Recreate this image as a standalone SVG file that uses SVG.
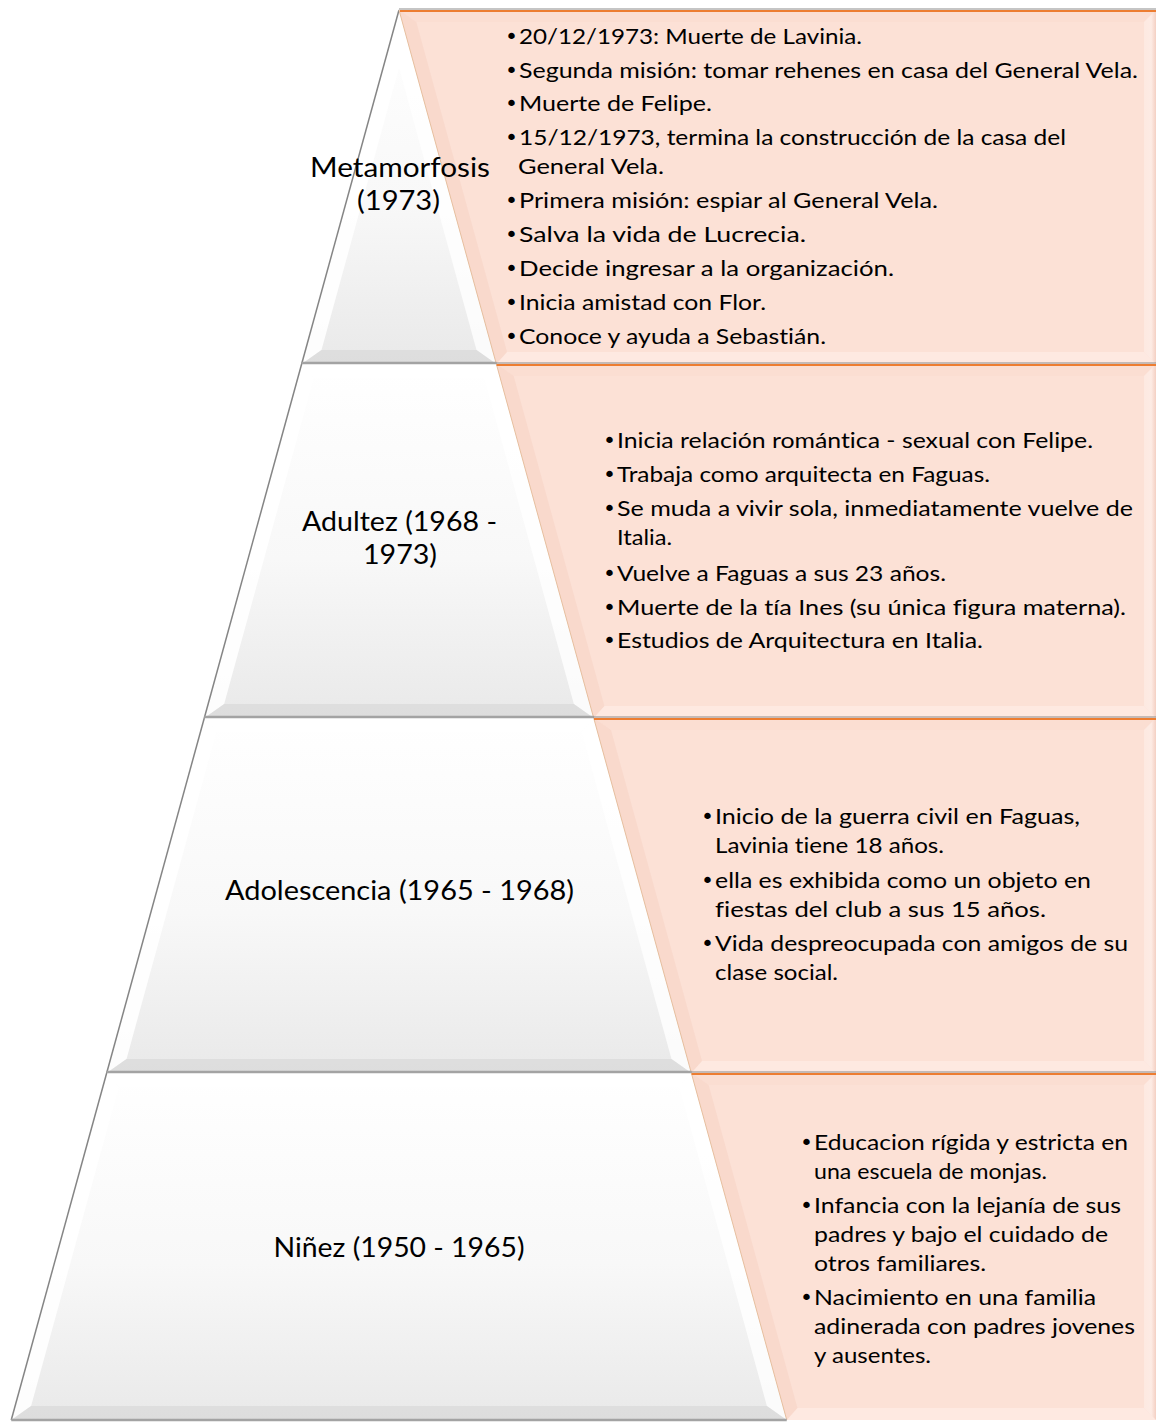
<svg xmlns="http://www.w3.org/2000/svg" width="1156" height="1422" viewBox="0 0 1156 1422">
  <defs>
    <linearGradient id="lvlFill" x1="0" y1="0" x2="0" y2="1">
      <stop offset="0" stop-color="#ffffff"/>
      <stop offset="0.55" stop-color="#f8f8f8"/>
      <stop offset="1" stop-color="#e9e9e9"/>
    </linearGradient>
    <linearGradient id="boxRight" x1="0" y1="0" x2="1" y2="0">
      <stop offset="0" stop-color="#fde9e1"/>
      <stop offset="0.6" stop-color="#fdebe4"/>
      <stop offset="1" stop-color="#f4d0c3"/>
    </linearGradient>
    <style>
      .lvl { fill: url(#lvlFill); }
      .fl { fill: #ffffff; opacity: 0.9; }
      .fr { fill: #ffffff; opacity: 0.8; }
      .ft { fill: #ffffff; opacity: 0.5; }
      .fb { fill: #d6d6d6; opacity: 0.6; }
      .edge { stroke: #858585; stroke-width: 1.5; fill: none; }
      .base { stroke: #a3a3a3; stroke-width: 2.5; fill: none; }
      .box { fill: #fce1d6; }
      .sl { fill: #f4cdbf; opacity: 0.4; }
      .st { fill: #f7d6ca; opacity: 0.3; }
      .sr { fill: url(#boxRight); }
      .sb { fill: #fff2ec; opacity: 0.5; }
      .seam { stroke: #e6bf9f; stroke-width: 1; fill: none; }
      .rule { stroke: #8c8c8c; stroke-width: 1.2; fill: none; }
      .accent { stroke: #ed7d31; stroke-width: 2.2; fill: none; }
      text { font-variant-ligatures: none; font-feature-settings: "liga" 0, "clig" 0; }
      .lab { font-family: Lato, "Open Sans", "Liberation Sans", sans-serif; font-size: 27px; fill: #000; text-anchor: middle; }
      .txt { font-family: Lato, "Open Sans", "Liberation Sans", sans-serif; font-size: 21px; fill: #000; }
      .dot { font-family: "DejaVu Sans", sans-serif; font-size: 22px; fill: #000; }
    </style>
  </defs>

  <rect width="1156" height="1422" fill="#ffffff"/>

  <!-- pyramid tier 1 (apex) -->
  <g id="tier-metamorfosis">
    <polygon class="lvl" points="399,10 496.35,364 301.65,364"/>
    <polygon class="fl" points="399,10 399,68 321.5,350 301.65,364"/>
    <polygon class="fr" points="399,10 496.35,364 476.5,350 399,68"/>
    <polygon class="fb" points="301.65,364 321.5,350 476.5,350 496.35,364"/>
    <line class="edge" x1="399" y1="10" x2="301.65" y2="364"/>
  </g>

  <!-- pyramid tier 2 -->
  <g id="tier-adultez">
    <polygon class="lvl" points="301.65,364 496.35,364 593.7,718 204.3,718"/>
    <polygon class="ft" points="301.65,364 496.35,364 484.2,378 313.8,378"/>
    <polygon class="fl" points="301.65,364 313.8,378 224.15,704 204.3,718"/>
    <polygon class="fr" points="496.35,364 593.7,718 573.85,704 484.2,378"/>
    <polygon class="fb" points="204.3,718 224.15,704 573.85,704 593.7,718"/>
    <line class="edge" x1="301.65" y1="364" x2="204.3" y2="718"/>
  </g>

  <!-- pyramid tier 3 -->
  <g id="tier-adolescencia">
    <polygon class="lvl" points="204.3,718 593.7,718 691.33,1073 106.68,1073"/>
    <polygon class="ft" points="204.3,718 593.7,718 581.55,732 216.45,732"/>
    <polygon class="fl" points="204.3,718 216.45,732 126.53,1059 106.68,1073"/>
    <polygon class="fr" points="593.7,718 691.33,1073 671.48,1059 581.55,732"/>
    <polygon class="fb" points="106.68,1073 126.53,1059 671.48,1059 691.33,1073"/>
    <line class="edge" x1="204.3" y1="718" x2="106.68" y2="1073"/>
  </g>

  <!-- pyramid tier 4 (base) -->
  <g id="tier-ninez">
    <polygon class="lvl" points="106.68,1073 691.33,1073 786.75,1420 11.25,1420"/>
    <polygon class="ft" points="106.68,1073 691.33,1073 679.18,1087 118.83,1087"/>
    <polygon class="fl" points="106.68,1073 118.83,1087 31.1,1406 11.25,1420"/>
    <polygon class="fr" points="691.33,1073 786.75,1420 766.9,1406 679.18,1087"/>
    <polygon class="fb" points="11.25,1420 31.1,1406 766.9,1406 786.75,1420"/>
    <line class="edge" x1="106.68" y1="1073" x2="11.25" y2="1420"/>
  </g>

  <!-- text panels beside each tier -->
  <g id="panel-metamorfosis">
    <polygon class="box" points="399,10 1156,10 1156,364 496.35,364"/>
    <polygon class="st" points="399,10 1156,10 1144,22 416.3,22"/>
    <polygon class="sl" points="399,10 416.3,22 507.05,352 496.35,364"/>
    <polygon class="sr" points="1144,22 1156,10 1156,364 1144,352"/>
    <polygon class="sb" points="496.35,364 507.05,352 1144,352 1156,364"/>
    <line class="seam" x1="399" y1="10" x2="496.35" y2="364"/>
  </g>

  <g id="panel-adultez">
    <polygon class="box" points="496.35,364 1156,364 1156,718 593.7,718"/>
    <polygon class="st" points="496.35,364 1156,364 1144,376 513.65,376"/>
    <polygon class="sl" points="496.35,364 513.65,376 604.4,706 593.7,718"/>
    <polygon class="sr" points="1144,376 1156,364 1156,718 1144,706"/>
    <polygon class="sb" points="593.7,718 604.4,706 1144,706 1156,718"/>
    <line class="seam" x1="496.35" y1="364" x2="593.7" y2="718"/>
  </g>

  <g id="panel-adolescencia">
    <polygon class="box" points="593.7,718 1156,718 1156,1073 691.33,1073"/>
    <polygon class="st" points="593.7,718 1156,718 1144,730 611,730"/>
    <polygon class="sl" points="593.7,718 611,730 702.03,1061 691.33,1073"/>
    <polygon class="sr" points="1144,730 1156,718 1156,1073 1144,1061"/>
    <polygon class="sb" points="691.33,1073 702.03,1061 1144,1061 1156,1073"/>
    <line class="seam" x1="593.7" y1="718" x2="691.33" y2="1073"/>
  </g>

  <g id="panel-ninez">
    <polygon class="box" points="691.33,1073 1156,1073 1156,1420 786.75,1420"/>
    <polygon class="st" points="691.33,1073 1156,1073 1144,1085 708.63,1085"/>
    <polygon class="sl" points="691.33,1073 708.63,1085 797.45,1408 786.75,1420"/>
    <polygon class="sr" points="1144,1085 1156,1073 1156,1420 1144,1408"/>
    <polygon class="sb" points="786.75,1420 797.45,1408 1144,1408 1156,1420"/>
    <line class="seam" x1="691.33" y1="1073" x2="786.75" y2="1420"/>
  </g>

  <!-- tier separators: grey base rule with the orange accent along each panel top -->
  <g id="separators">
    <line class="rule" x1="399" y1="9" x2="1156" y2="9"/>
    <line class="accent" x1="400" y1="11" x2="1156" y2="11"/>
    <line class="base" x1="301.65" y1="363" x2="496.35" y2="363"/>
    <line class="rule" x1="496" y1="363" x2="1156" y2="363"/>
    <line class="accent" x1="496.6" y1="365" x2="1156" y2="365"/>
    <line class="base" x1="204.3" y1="717" x2="593.7" y2="717"/>
    <line class="rule" x1="593" y1="717" x2="1156" y2="717"/>
    <line class="accent" x1="594" y1="719" x2="1156" y2="719"/>
    <line class="base" x1="106.68" y1="1072" x2="691.33" y2="1072"/>
    <line class="rule" x1="691" y1="1072" x2="1156" y2="1072"/>
    <line class="accent" x1="691.6" y1="1074" x2="1156" y2="1074"/>
    <line class="base" x1="11.25" y1="1420" x2="786.75" y2="1420"/>
  </g>

  <!-- tier titles -->
  <g id="tier-labels">
    <text class="lab" x="400" y="177" textLength="180" lengthAdjust="spacingAndGlyphs">Metamorfosis</text>
    <text class="lab" x="398.5" y="210" textLength="83" lengthAdjust="spacingAndGlyphs">(1973)</text>
    <text class="lab" x="399.5" y="531" textLength="195" lengthAdjust="spacingAndGlyphs">Adultez (1968 -</text>
    <text class="lab" x="400" y="564" textLength="74" lengthAdjust="spacingAndGlyphs">1973)</text>
    <text class="lab" x="399.5" y="900" textLength="349" lengthAdjust="spacingAndGlyphs">Adolescencia (1965 - 1968)</text>
    <text class="lab" x="399" y="1257" textLength="251" lengthAdjust="spacingAndGlyphs">Niñez (1950 - 1965)</text>
  </g>

  <!-- panel bullet lists -->
  <g id="list-metamorfosis" class="txt">
    <text class="dot" x="505" y="44">•</text>
    <text x="519" y="44" textLength="343" lengthAdjust="spacingAndGlyphs">20/12/1973: Muerte de Lavinia.</text>
    <text class="dot" x="505" y="78">•</text>
    <text x="519" y="78" textLength="619" lengthAdjust="spacingAndGlyphs">Segunda misión: tomar rehenes en casa del General Vela.</text>
    <text class="dot" x="505" y="111">•</text>
    <text x="519" y="111" textLength="193" lengthAdjust="spacingAndGlyphs">Muerte de Felipe.</text>
    <text class="dot" x="505" y="145">•</text>
    <text x="519" y="145" textLength="547" lengthAdjust="spacingAndGlyphs">15/12/1973, termina la construcción de la casa del</text>
    <text x="518" y="174" textLength="146" lengthAdjust="spacingAndGlyphs">General Vela.</text>
    <text class="dot" x="505" y="208">•</text>
    <text x="519" y="208" textLength="419" lengthAdjust="spacingAndGlyphs">Primera misión: espiar al General Vela.</text>
    <text class="dot" x="505" y="242">•</text>
    <text x="519" y="242" textLength="287" lengthAdjust="spacingAndGlyphs">Salva la vida de Lucrecia.</text>
    <text class="dot" x="505" y="276">•</text>
    <text x="519" y="276" textLength="375" lengthAdjust="spacingAndGlyphs">Decide ingresar a la organización.</text>
    <text class="dot" x="505" y="310">•</text>
    <text x="519" y="310" textLength="247" lengthAdjust="spacingAndGlyphs">Inicia amistad con Flor.</text>
    <text class="dot" x="505" y="344">•</text>
    <text x="519" y="344" textLength="307" lengthAdjust="spacingAndGlyphs">Conoce y ayuda a Sebastián.</text>
  </g>

  <g id="list-adultez" class="txt">
    <text class="dot" x="603" y="448">•</text>
    <text x="617" y="448" textLength="476" lengthAdjust="spacingAndGlyphs">Inicia relación romántica - sexual con Felipe.</text>
    <text class="dot" x="603" y="482">•</text>
    <text x="617" y="482" textLength="373" lengthAdjust="spacingAndGlyphs">Trabaja como arquitecta en Faguas.</text>
    <text class="dot" x="603" y="516">•</text>
    <text x="617" y="516" textLength="516" lengthAdjust="spacingAndGlyphs">Se muda a vivir sola, inmediatamente vuelve de</text>
    <text x="617" y="545" textLength="55" lengthAdjust="spacingAndGlyphs">Italia.</text>
    <text class="dot" x="603" y="581">•</text>
    <text x="617" y="581" textLength="329" lengthAdjust="spacingAndGlyphs">Vuelve a Faguas a sus 23 años.</text>
    <text class="dot" x="603" y="615">•</text>
    <text x="617" y="615" textLength="509" lengthAdjust="spacingAndGlyphs">Muerte de la tía Ines (su única figura materna).</text>
    <text class="dot" x="603" y="648">•</text>
    <text x="617" y="648" textLength="366" lengthAdjust="spacingAndGlyphs">Estudios de Arquitectura en Italia.</text>
  </g>

  <g id="list-adolescencia" class="txt">
    <text class="dot" x="701" y="824">•</text>
    <text x="715" y="824" textLength="365" lengthAdjust="spacingAndGlyphs">Inicio de la guerra civil en Faguas,</text>
    <text x="715" y="853" textLength="229" lengthAdjust="spacingAndGlyphs">Lavinia tiene 18 años.</text>
    <text class="dot" x="701" y="888">•</text>
    <text x="715" y="888" textLength="376" lengthAdjust="spacingAndGlyphs">ella es exhibida como un objeto en</text>
    <text x="715" y="917" textLength="331" lengthAdjust="spacingAndGlyphs">fiestas del club a sus 15 años.</text>
    <text class="dot" x="701" y="951">•</text>
    <text x="715" y="951" textLength="413" lengthAdjust="spacingAndGlyphs">Vida despreocupada con amigos de su</text>
    <text x="715" y="980" textLength="123" lengthAdjust="spacingAndGlyphs">clase social.</text>
  </g>

  <g id="list-ninez" class="txt">
    <text class="dot" x="800" y="1150">•</text>
    <text x="814" y="1150" textLength="314" lengthAdjust="spacingAndGlyphs">Educacion rígida y estricta en</text>
    <text x="814" y="1179" textLength="233" lengthAdjust="spacingAndGlyphs">una escuela de monjas.</text>
    <text class="dot" x="800" y="1213">•</text>
    <text x="814" y="1213" textLength="307" lengthAdjust="spacingAndGlyphs">Infancia con la lejanía de sus</text>
    <text x="814" y="1242" textLength="294" lengthAdjust="spacingAndGlyphs">padres y bajo el cuidado de</text>
    <text x="814" y="1271" textLength="172" lengthAdjust="spacingAndGlyphs">otros familiares.</text>
    <text class="dot" x="800" y="1305">•</text>
    <text x="814" y="1305" textLength="282" lengthAdjust="spacingAndGlyphs">Nacimiento en una familia</text>
    <text x="814" y="1334" textLength="321" lengthAdjust="spacingAndGlyphs">adinerada con padres jovenes</text>
    <text x="814" y="1363" textLength="117" lengthAdjust="spacingAndGlyphs">y ausentes.</text>
  </g>
</svg>
